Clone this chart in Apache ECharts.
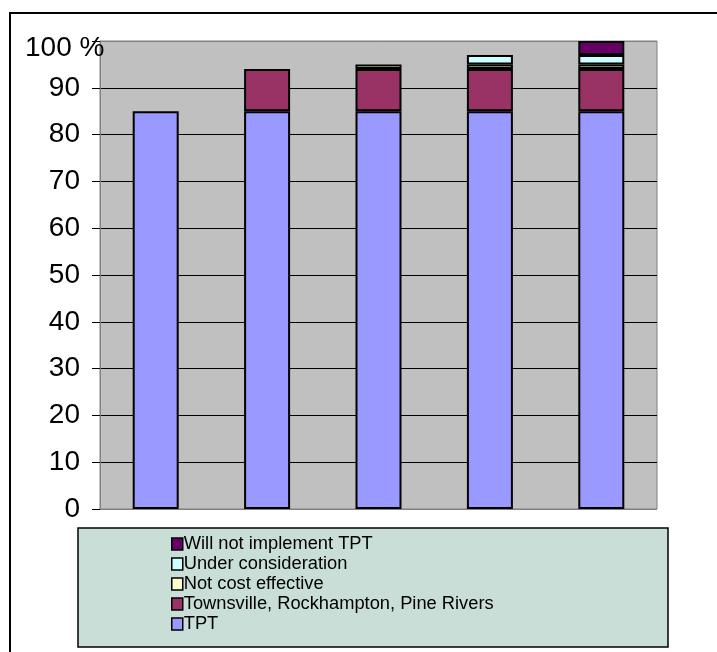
<!DOCTYPE html>
<html>
<head>
<meta charset="utf-8">
<script src="https://cdn.jsdelivr.net/npm/echarts@6/dist/echarts.min.js"></script>
<style>
html,body{margin:0;padding:0;background:#fff;}
#c{width:717px;height:652px;}
</style>
</head>
<body>
<div id="c"></div>
<script>
var categories = ['1', '2', '3', '4', '5'];
var tpt = [85, 85, 85, 85, 85];
var townsville = [null, 9, 9, 9, 9];
var notCostEffective = [null, null, 1, 1, 1];
var underConsideration = [null, null, null, 2, 2];
var willNot = [null, null, null, null, 3];
var yTicks = [0, 10, 20, 30, 40, 50, 60, 70, 80, 90, 100];

var FONT = '"Liberation Sans", Arial, sans-serif';
var chart = echarts.init(document.getElementById('c'), null, {renderer: 'canvas'});

function mk(name, data, color) {
  return {
    name: name, type: 'bar', stack: 's', data: data, barWidth: 46,
    itemStyle: {color: color, borderColor: '#000', borderWidth: 2},
    emphasis: {disabled: true}, animation: false
  };
}

var gridColors = yTicks.map(function (v) { return (v === 0 || v === 100) ? '#808080' : '#000'; });

chart.setOption({
  animation: false,
  textStyle: {fontFamily: FONT},
  graphic: [
    {type: 'rect', shape: {x: 10, y: 13, width: 720, height: 660}, style: {fill: 'none', stroke: '#000', lineWidth: 2}, z: -10},
    {type: 'rect', shape: {x: 78, y: 528, width: 590, height: 119}, style: {fill: '#c9ded6', stroke: '#000', lineWidth: 1.5}, z: -10},
    {type: 'text', left: 25, top: 34, style: {text: '100 %', font: '28px ' + FONT, fill: '#000'}, z: 10}
  ],
  grid: {left: 100, right: 60, top: 41, bottom: 143, show: true, backgroundColor: '#c0c0c0', borderColor: '#808080', borderWidth: 1},
  legend: {
    orient: 'vertical', left: 166, top: 530, itemGap: 2, itemWidth: 11, itemHeight: 12,
    icon: 'rect',
    data: ['Will not implement TPT', 'Under consideration', 'Not cost effective', 'Townsville, Rockhampton, Pine Rivers', 'TPT'],
    itemStyle: {borderColor: '#000', borderWidth: 1.5},
    textStyle: {fontSize: 18.3, fontFamily: FONT, color: '#000', padding: [0, 0, 0, -4]},
    selectedMode: false
  },
  xAxis: {
    type: 'category', data: categories,
    axisLine: {show: false}, axisTick: {show: false}, axisLabel: {show: false}, splitLine: {show: false}
  },
  yAxis: {
    type: 'value', min: 0, max: 100, interval: 10,
    axisLine: {show: true, lineStyle: {color: '#808080', width: 1}},
    axisTick: {show: true, length: 8, lineStyle: {color: '#000', width: 1}},
    axisLabel: {
      fontSize: 28, fontFamily: FONT, color: '#000', margin: 20,
      formatter: function (v) { return v === 100 ? '' : String(v); }
    },
    splitLine: {show: true, lineStyle: {color: gridColors, width: 1}}
  },
  series: [
    mk('TPT', tpt, '#9999ff'),
    mk('Townsville, Rockhampton, Pine Rivers', townsville, '#993366'),
    mk('Not cost effective', notCostEffective, '#ffffcc'),
    mk('Under consideration', underConsideration, '#ccffff'),
    mk('Will not implement TPT', willNot, '#660066')
  ]
});
</script>
</body>
</html>
